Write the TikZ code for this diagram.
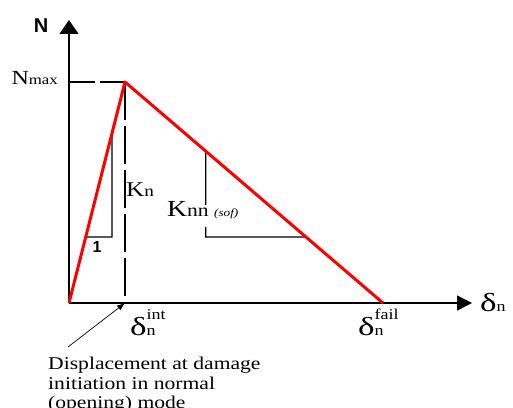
\documentclass[tikz,border=0pt]{standalone}
\usepackage{graphicx}
\usepackage{fontspec}
\setmainfont{Liberation Serif}
\newfontfamily\axisfont{Liberation Sans}
\usetikzlibrary{arrows.meta,calc}
% wide text, as in the sketch
\newcommand{\wide}[1]{\scalebox{1.2}[1]{#1}}
% delta with subscript n and an optional superscript
\newcommand{\dlabel}[1]{{\fontsize{26}{26}\selectfont\scalebox{1.35}[1]{δ}}\rlap{\fontsize{15}{15}\selectfont\raisebox{16pt}{\wide{#1}}}{\fontsize{15}{15}\selectfont\wide{n}}}
\begin{document}
\begin{tikzpicture}[x=1pt,y=1pt,line join=miter,
    axis/.style={line width=1.4pt},
    thinline/.style={line width=1.2pt},
    law/.style={red,line width=3pt,line join=round}]
  \useasboundingbox (0,0) rectangle (513,407);

  % key points of the traction-separation law
  \coordinate (O) at (69,104);
  \coordinate (Ntop) at (69,387);
  \coordinate (Dend) at (472,104);
  \coordinate (Peak) at (125,325);
  \coordinate (Fail) at (383,104);
  \coordinate (Nm) at (69,325);
  \coordinate (Dint) at (125,104);

  % axes
  \draw[axis,-{Triangle[width=19pt,length=14pt]}] (O) -- (Ntop);
  \draw[axis,-{Triangle[width=15pt,length=15pt]}] (O) -- (Dend);
  \node[font=\axisfont\bfseries\fontsize{20}{20}\selectfont] (nlab) at (41,381) {N};
  \node[anchor=base west,inner sep=0pt] (dlab) at (480,96) {\dlabel{}};

  % dashed guides to the peak
  \draw[thinline,dash pattern=on 26pt off 5pt] (Nm) -- (Peak);
  \draw[thinline,dash pattern=on 38pt off 6pt] (Peak) -- (Dint);
  \node[anchor=base east,inner sep=0pt] (nmax) at (58,322)
    {\wide{\fontsize{20}{20}\selectfont N\fontsize{14}{14}\selectfont max}};

  % slope triangles
  \coordinate (KnA) at ($(O)!0.2986!(Peak)$);
  \coordinate (KnB) at (112,170);
  \coordinate (KnC) at ($(O)!0.768!(Peak)$);
  \draw[thinline] (KnA) -- (KnB) -- (KnC);
  \node[font=\axisfont\bfseries\fontsize{16}{16}\selectfont] (one) at (97,160) {1};
  \node[anchor=base west,inner sep=0pt] (kn) at (126,210)
    {\wide{\fontsize{21}{21}\selectfont K\fontsize{16}{16}\selectfont n}};

  \coordinate (KsA) at ($(Peak)!0.3128!(Fail)$);
  \coordinate (KsB) at (205.7,202);
  \coordinate (KsC) at (205.7,180);
  \coordinate (KsD) at (205.7,170);
  \coordinate (KsE) at ($(Peak)!0.7014!(Fail)$);
  \draw[thinline] (KsA) -- (KsB);
  \draw[thinline] (KsC) -- (KsD) -- (KsE);
  \node[anchor=base west,inner sep=0pt] (knn) at (167,190)
    {\wide{\fontsize{23}{23}\selectfont K\fontsize{18}{18}\selectfont nn
     \fontsize{11}{11}\itshape (sof)}};

  % bilinear law
  \draw[law] (O) -- (Peak) -- (Fail);

  % displacement labels
  \node[anchor=base west,inner sep=0pt] (dint) at (130,72) {\dlabel{int}};
  \node[anchor=base west,inner sep=0pt] (dfail) at (358,72) {\dlabel{fail}};

  % note on damage initiation
  \node[anchor=north west,inner sep=0pt,font=\fontsize{18}{19.5}\selectfont] (note) at (48,51)
    {\wide{\begin{tabular}[t]{@{}l@{}}Displacement at damage\\initiation in normal\\(opening) mode\end{tabular}}};
  \coordinate (tail) at (68,60);
  \draw[line width=0.7pt,-{Latex[length=8pt,width=6pt]}] (tail) -- (Dint);
\end{tikzpicture}
\end{document}
